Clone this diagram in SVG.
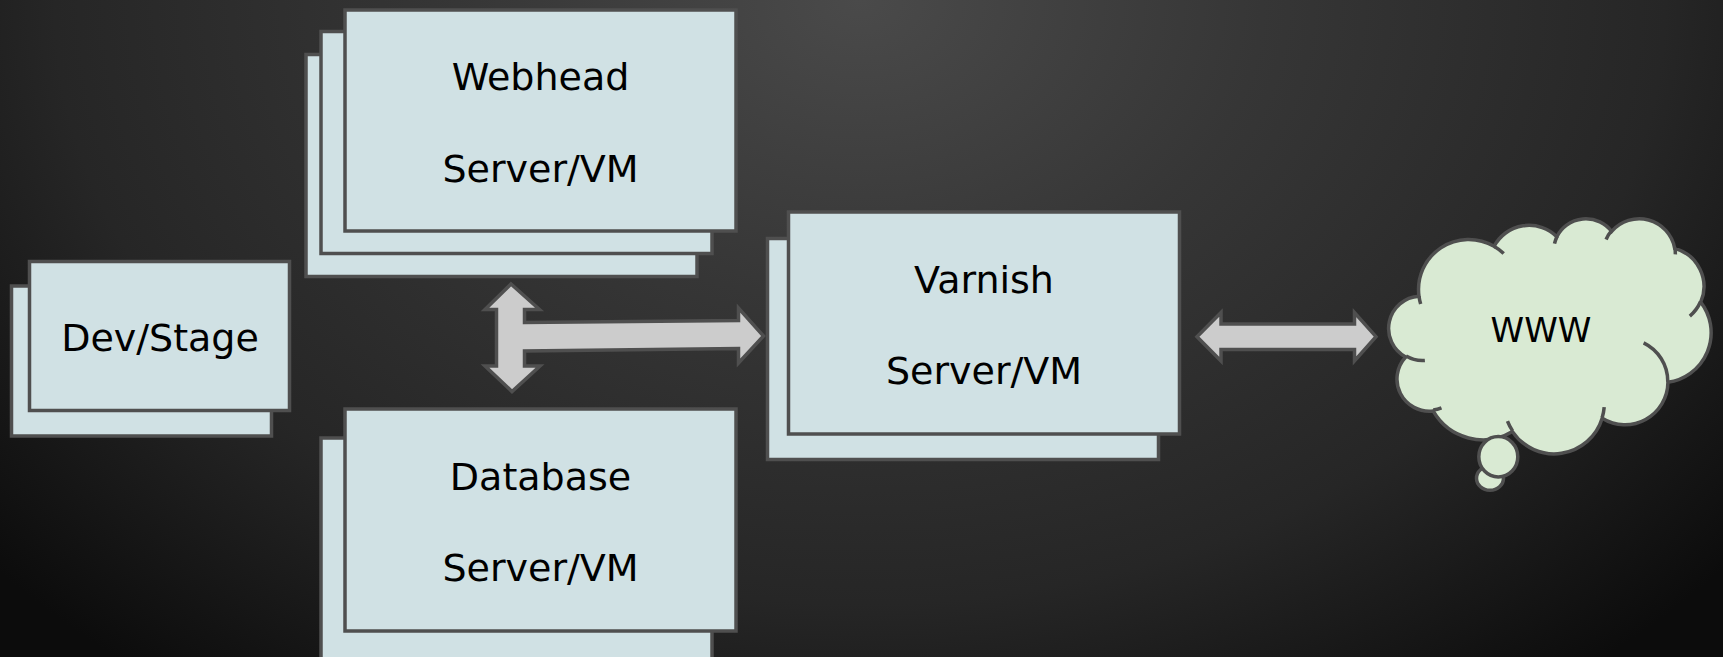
<svg xmlns="http://www.w3.org/2000/svg" width="1723" height="657" viewBox="0 0 1723 657">
  <defs>
    <radialGradient id="bg" gradientUnits="userSpaceOnUse" cx="860" cy="0" r="1150" gradientTransform="translate(860 0) scale(1 0.75) translate(-860 0)">
      <stop offset="0" stop-color="#4a4a4a"/>
      <stop offset="0.35" stop-color="#363636"/>
      <stop offset="0.7" stop-color="#262626"/>
      <stop offset="1" stop-color="#0c0c0c"/>
    </radialGradient>
    <style>
      .box { fill: #d0e1e4; stroke: #4f4f4f; stroke-width: 3.5; }
      .lbl { font-family: "DejaVu Sans", Verdana, sans-serif; font-size: 38px; fill: #000; text-anchor: middle; }
      .arrow { fill: #cccccc; stroke: #4f4f4f; stroke-width: 3.5; stroke-linejoin: miter; }
      .cloud { fill: #d9ead3; stroke: #4f4f4f; stroke-width: 3.5; }
      .inner { fill: none; stroke: #4f4f4f; stroke-width: 3.5; stroke-linecap: butt; }
    </style>
  </defs>

  <rect x="0" y="0" width="1723" height="657" fill="url(#bg)"/>

  <g id="devstage">
    <rect class="box" x="11.5" y="286" width="260" height="150"/>
    <rect class="box" x="29.5" y="261.5" width="260" height="149"/>
    <text class="lbl" x="160" y="351">Dev/Stage</text>
  </g>

  <g id="webhead">
    <rect class="box" x="306" y="54.5" width="391" height="222"/>
    <rect class="box" x="321" y="31.5" width="391" height="222"/>
    <rect class="box" x="345" y="10" width="391" height="221"/>
    <text class="lbl" x="540.5" y="90">Webhead</text>
    <text class="lbl" x="540.5" y="181.5">Server/VM</text>
  </g>

  <g id="database">
    <rect class="box" x="321" y="438" width="391" height="222"/>
    <rect class="box" x="345" y="409" width="391" height="222"/>
    <text class="lbl" x="540.5" y="490">Database</text>
    <text class="lbl" x="540.5" y="581">Server/VM</text>
  </g>

  <g id="varnish">
    <rect class="box" x="767.5" y="238.5" width="391" height="221"/>
    <rect class="box" x="788.5" y="212" width="391" height="222"/>
    <text class="lbl" x="984" y="292.5">Varnish</text>
    <text class="lbl" x="984" y="383.5">Server/VM</text>
  </g>

  <g id="www">
    <path class="cloud" d="M1418.98,296.17 A50.18,49.99 0 0 1 1494.06,246.29 A39.63,39.53 0 0 1 1556.85,236.67 A32.43,32.34 0 0 1 1611.66,231.48 A36.09,35.88 0 0 1 1674.70,248.33 A39.63,39.56 0 0 1 1700.72,302.09 A50.34,50.15 0 0 1 1667.93,382.30 A42.99,42.79 0 0 1 1602.17,418.26 A50.17,50.13 0 0 1 1512.46,431.60 A57.36,57.35 0 0 1 1433.13,410.97 A32.40,32.19 0 0 1 1405.71,357.00 A32.29,32.34 0 0 1 1418.98,296.17 Z"/>
    <ellipse class="cloud" cx="1490" cy="478.3" rx="13.5" ry="12"/>
    <ellipse class="cloud" cx="1498.3" cy="456.7" rx="19.5" ry="20.2"/>
    <path class="inner" d="M1424.87,360.40 A32.29,32.34 0 0 1 1406.05,356.06 M1441.48,407.84 A32.40,32.19 0 0 1 1433.24,409.92 M1512.44,430.64 A50.17,50.13 0 0 1 1507.47,421.16 M1604.20,407.04 A50.17,50.13 0 0 1 1602.22,417.42 M1643.60,342.87 A42.99,42.79 0 0 1 1667.76,381.68 M1700.59,301.52 A39.63,39.56 0 0 1 1689.83,316.08 M1674.77,247.52 A36.09,35.88 0 0 1 1675.34,254.39 M1606.07,239.50 A36.09,35.88 0 0 1 1611.59,230.71 M1554.52,243.68 A32.43,32.34 0 0 1 1557.19,236.12 M1494.03,246.24 A50.18,49.99 0 0 1 1503.69,253.58 M1420.67,303.89 A50.18,49.99 0 0 1 1418.98,296.17"/>
    <text class="lbl" x="1541" y="341.5" style="font-size:34px">WWW</text>
  </g>

  <g id="connectors">
    <path class="arrow" d="M511,284 L539.5,309.5 L524.5,309.5 L524.5,322.5 L738.5,320.5 L738.5,308 L763.5,336 L738.5,363 L738.5,348.5 L524.5,351 L524.5,366 L540,366 L512,391.5 L485,366 L496.5,366 L496.5,309.5 L485,309.5 Z"/>
    <path class="arrow" d="M1197,336.7 L1221,312.5 L1221,324 L1354.5,324 L1354.5,312.5 L1376,336.7 L1354.5,361 L1354.5,349.5 L1221,349.5 L1221,361 Z"/>
  </g>
</svg>
